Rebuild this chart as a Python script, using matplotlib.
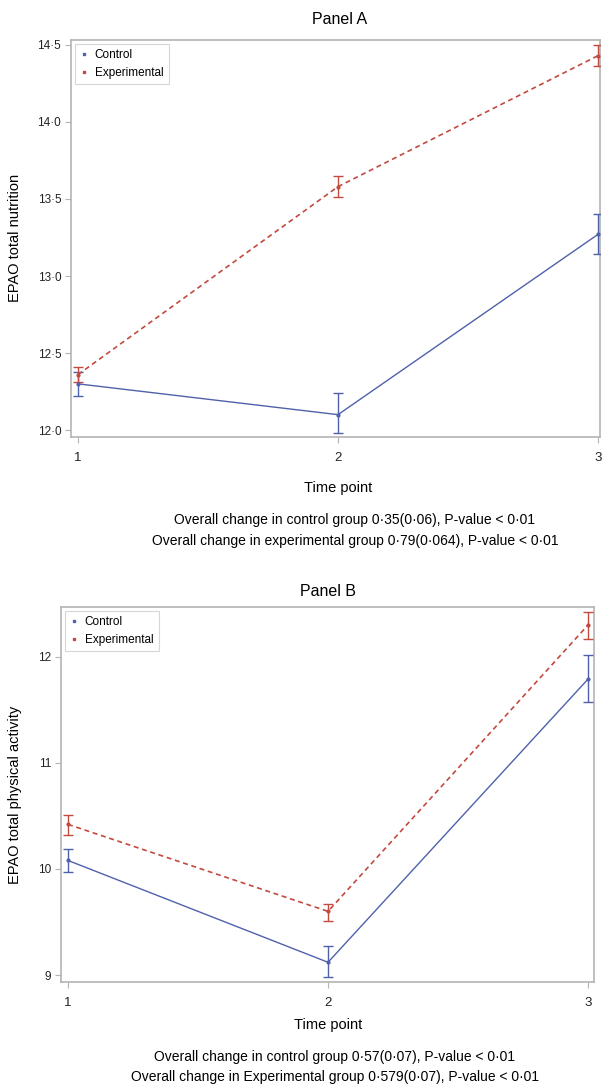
import matplotlib
matplotlib.use("Agg")
import matplotlib.pyplot as plt
from matplotlib.ticker import FuncFormatter
from matplotlib.lines import Line2D

plt.rcParams['font.family'] = ['Liberation Sans', 'DejaVu Sans']

# ---- data ----
time_points = [1, 2, 3]

a_control = [12.30, 12.10, 13.27]
a_control_lo = [12.22, 11.98, 13.14]
a_control_hi = [12.38, 12.24, 13.40]
a_exp = [12.36, 13.58, 14.43]
a_exp_lo = [12.31, 13.51, 14.36]
a_exp_hi = [12.41, 13.65, 14.50]
a_yticks = [12.0, 12.5, 13.0, 13.5, 14.0, 14.5]

b_control = [10.08, 9.12, 11.79]
b_control_lo = [9.97, 8.98, 11.57]
b_control_hi = [10.19, 9.27, 12.02]
b_exp = [10.42, 9.60, 12.30]
b_exp_lo = [10.32, 9.51, 12.17]
b_exp_hi = [10.51, 9.67, 12.42]
b_yticks = [9, 10, 11, 12]

a_title = "Panel A"
b_title = "Panel B"
a_ylabel = "EPAO total nutrition"
b_ylabel = "EPAO total physical activity"
xlabel = "Time point"
a_notes = ["Overall change in control group 0·35(0·06), P-value < 0·01",
           "Overall change in experimental group 0·79(0·064), P-value < 0·01"]
b_notes = ["Overall change in control group 0·57(0·07), P-value < 0·01",
           "Overall change in Experimental group 0·579(0·07), P-value < 0·01"]
legend_labels = ["Control", "Experimental"]

BLUE = '#4f61ab'
RED = '#c24a3e'
FRAME = '#b4b4b4'

W, H = 605, 1089
fig = plt.figure(figsize=(W / 100, H / 100), dpi=100)


def px_axes(l, t, r, b):
    return fig.add_axes([l / W, 1 - b / H, (r - l) / W, (b - t) / H])


def draw_panel(ax, ctrl, clo, chi, exp, elo, ehi, yticks, ylim, xlim, fmt):
    ce = [[c - lo for c, lo in zip(ctrl, clo)], [hi - c for c, hi in zip(ctrl, chi)]]
    ee = [[e - lo for e, lo in zip(exp, elo)], [hi - e for e, hi in zip(exp, ehi)]]
    ax.errorbar(time_points, ctrl, yerr=ce, color=BLUE, lw=1.0, ls='-',
                marker='o', ms=2.0, capsize=3.5, elinewidth=1.0, capthick=1.0,
                label=legend_labels[0], zorder=3)
    ax.errorbar(time_points, exp, yerr=ee, color=RED, lw=1.2, ls=(0, (3, 2.2)),
                marker='o', ms=2.0, capsize=3.5, elinewidth=1.0, capthick=1.0,
                label=legend_labels[1], zorder=3)
    ax.set_xlim(*xlim)
    ax.set_ylim(*ylim)
    ax.set_xticks(time_points)
    ax.set_yticks(yticks)
    ax.yaxis.set_major_formatter(FuncFormatter(fmt))
    for s in ax.spines.values():
        s.set_color(FRAME)
        s.set_linewidth(1.2)
    ax.tick_params(colors=FRAME, labelcolor='#222222', length=4, width=0.8)
    ax.tick_params(axis='y', labelsize=8.5, pad=3)
    ax.tick_params(axis='x', labelsize=9.5, pad=7)
    hh = [Line2D([], [], color=BLUE, marker='s', ms=2.0, ls='none'),
          Line2D([], [], color=RED, marker='s', ms=2.0, ls='none')]
    leg = ax.legend(hh, legend_labels, loc='upper left', fontsize=8.5,
                    frameon=True, fancybox=False, handlelength=0.6, handletextpad=0.6,
                    borderpad=0.45, labelspacing=0.45, borderaxespad=0.35)
    leg.get_frame().set_edgecolor('#cccccc')
    leg.get_frame().set_linewidth(0.8)


fmt_a = lambda v, p: f"{v:.1f}".replace('.', '·')
fmt_b = lambda v, p: f"{v:.0f}"

# Panel A
axA = px_axes(71, 40, 600, 437)
draw_panel(axA, a_control, a_control_lo, a_control_hi, a_exp, a_exp_lo, a_exp_hi,
           a_yticks, (11.955, 14.532), (0.973, 3.008), fmt_a)
fig.text(340 / W, 1 - 20 / H, a_title, ha='center', va='center', fontsize=11.5)
fig.text(338 / W, 1 - 488 / H, xlabel, ha='center', va='center', fontsize=10.5)
fig.text(15 / W, 1 - 238 / H, a_ylabel, ha='center', va='center', rotation=90, fontsize=10.5)
fig.text(355 / W, 1 - 520 / H, a_notes[0], ha='center', va='center', fontsize=10)
fig.text(355 / W, 1 - 541 / H, a_notes[1], ha='center', va='center', fontsize=10)

# Panel B
axB = px_axes(61, 607, 594, 982)
draw_panel(axB, b_control, b_control_lo, b_control_hi, b_exp, b_exp_lo, b_exp_hi,
           b_yticks, (8.934, 12.47), (0.973, 3.023), fmt_b)
fig.text(328 / W, 1 - 592 / H, b_title, ha='center', va='center', fontsize=11.5)
fig.text(328 / W, 1 - 1025 / H, xlabel, ha='center', va='center', fontsize=10.5)
fig.text(15 / W, 1 - 795 / H, b_ylabel, ha='center', va='center', rotation=90, fontsize=10.5)
fig.text(335 / W, 1 - 1057 / H, b_notes[0], ha='center', va='center', fontsize=10)
fig.text(335 / W, 1 - 1077 / H, b_notes[1], ha='center', va='center', fontsize=10)

fig.savefig("out.png", dpi=100)
